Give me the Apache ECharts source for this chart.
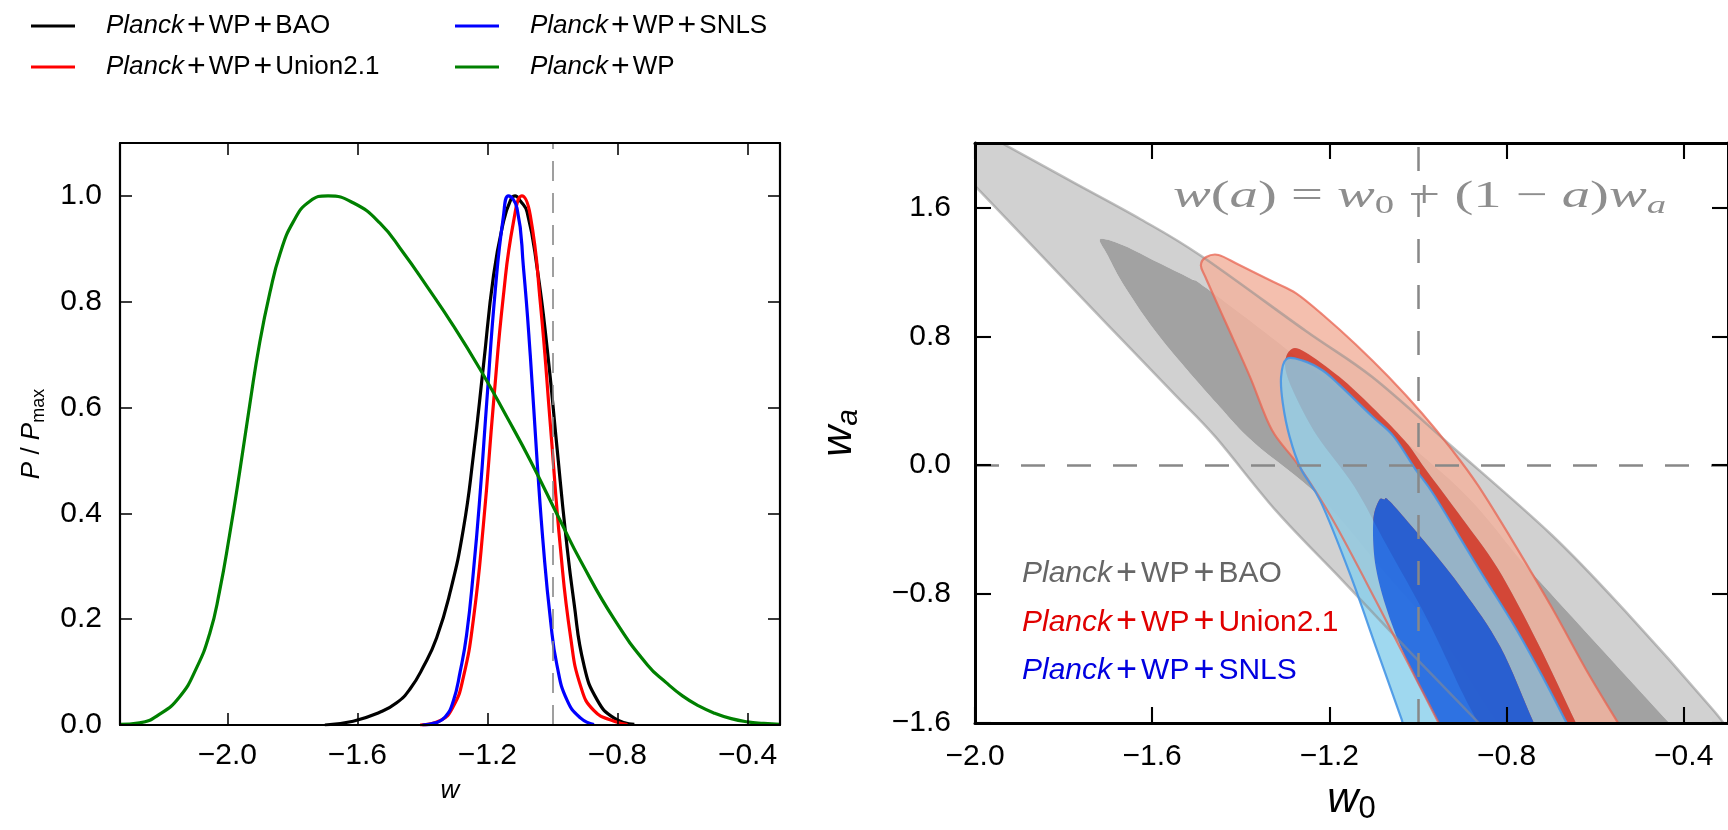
<!DOCTYPE html>
<html>
<head>
<meta charset="utf-8">
<script src="https://cdn.jsdelivr.net/npm/echarts@6/dist/echarts.min.js"></script>
<style>
html,body{margin:0;padding:0;background:#fff;}
#chart{width:1728px;height:830px;}
</style>
</head>
<body>
<div id="chart"></div>
<script>
// ---------------- data ----------------
const seriesNames = ['Planck+WP+BAO', 'Planck+WP+Union2.1', 'Planck+WP+SNLS', 'Planck+WP'];
const lineColors = ['#000000', '#ff0000', '#0000ff', '#008000'];

// 1D posteriors P/Pmax vs w (left panel)
const baoCurve = [[-1.70,0.0],[-1.613,0.007],[-1.531,0.024],[-1.479,0.042],[-1.438,0.068],[-1.397,0.11],[-1.356,0.165],[-1.315,0.25],[-1.274,0.37],[-1.243,0.51],[-1.212,0.68],[-1.181,0.85],[-1.151,0.95],[-1.13,0.99],[-1.115,1.0],[-1.098,0.99],[-1.078,0.97],[-1.047,0.864],[-1.016,0.711],[-0.986,0.525],[-0.96,0.365],[-0.934,0.233],[-0.903,0.113],[-0.862,0.047],[-0.81,0.013],[-0.748,0.001]];
const unionCurve = [[-1.407,0.0],[-1.346,0.008],[-1.305,0.035],[-1.274,0.09],[-1.243,0.2],[-1.212,0.38],[-1.181,0.61],[-1.151,0.81],[-1.12,0.95],[-1.094,1.0],[-1.068,0.963],[-1.037,0.797],[-1.006,0.565],[-0.975,0.332],[-0.944,0.166],[-0.913,0.073],[-0.872,0.027],[-0.81,0.007],[-0.769,0.001]];
const snlsCurve = [[-1.40,0.0],[-1.36,0.004],[-1.33,0.015],[-1.305,0.045],[-1.284,0.1],[-1.264,0.17],[-1.243,0.29],[-1.222,0.44],[-1.202,0.61],[-1.176,0.82],[-1.151,0.96],[-1.135,1.0],[-1.109,0.977],[-1.089,0.864],[-1.068,0.698],[-1.047,0.498],[-1.027,0.332],[-1.006,0.199],[-0.986,0.113],[-0.955,0.047],[-0.913,0.013],[-0.872,0.001]];
const wpCurve = [[-2.332,0.001],[-2.27,0.004],[-2.209,0.02],[-2.147,0.053],[-2.096,0.106],[-2.054,0.173],[-2.024,0.252],[-1.993,0.359],[-1.962,0.478],[-1.931,0.605],[-1.9,0.724],[-1.869,0.817],[-1.838,0.89],[-1.798,0.95],[-1.746,0.99],[-1.69,1.0],[-1.613,0.987],[-1.531,0.949],[-1.459,0.893],[-1.387,0.83],[-1.305,0.755],[-1.222,0.672],[-1.14,0.582],[-1.068,0.5],[-0.975,0.385],[-0.913,0.31],[-0.81,0.2],[-0.707,0.113],[-0.65,0.08],[-0.6,0.055],[-0.55,0.036],[-0.5,0.022],[-0.45,0.012],[-0.4,0.006],[-0.35,0.003],[-0.3,0.001]];

// 2D contours (w0, wa) (right panel)
const baoOuter = [[-2.15,2.32],[-1.94,2.0],[-1.775,1.751],[-1.626,1.527],[-1.49,1.30],[-1.253,0.833],[-1.103,0.547],[-0.924,0.118],[-0.698,-0.433],[-0.533,-0.903],[-0.335,-1.515],[-0.30,-1.65],[-0.21,-2.0],[-0.72,-2.0],[-0.864,-1.596],[-1.029,-1.127],[-1.169,-0.719],[-1.318,-0.29],[-1.458,0.179],[-1.551,0.445],[-1.701,0.873],[-1.85,1.302],[-1.999,1.731],[-2.15,2.166]];
const baoInner = [[-1.717,1.404],[-1.663,1.363],[-1.589,1.261],[-1.514,1.159],[-1.477,1.098],[-1.282,0.69],[-0.929,-0.086],[-0.739,-0.678],[-0.434,-1.596],[-0.30,-2.0],[-0.70,-2.0],[-0.82,-1.6],[-0.94,-1.1],[-1.08,-0.65],[-1.22,-0.2],[-1.37,0.14],[-1.454,0.383],[-1.581,0.79],[-1.66,1.1],[-1.70,1.30]];
const unionOuter = [[-1.49,1.24],[-1.478,1.292],[-1.45,1.305],[-1.402,1.241],[-1.327,1.139],[-1.275,1.067],[-1.215,0.934],[-1.141,0.751],[-1.066,0.547],[-0.991,0.322],[-0.924,0.098],[-0.864,-0.127],[-0.781,-0.494],[-0.698,-0.882],[-0.616,-1.29],[-0.549,-1.596],[-0.46,-2.0],[-0.88,-2.0],[-0.954,-1.596],[-1.095,-0.841],[-1.194,-0.331],[-1.27,0.0],[-1.33,0.22],[-1.379,0.547],[-1.432,0.873],[-1.477,1.15]];
const unionInner = [[-1.286,0.72],[-1.253,0.70],[-1.178,0.55],[-1.103,0.36],[-1.029,0.15],[-0.984,-0.02],[-0.90,-0.33],[-0.82,-0.64],[-0.73,-1.10],[-0.644,-1.596],[-0.574,-2.0],[-0.79,-2.0],[-0.864,-1.6],[-0.90,-1.41],[-0.98,-0.95],[-1.07,-0.5],[-1.144,-0.13],[-1.227,0.18],[-1.28,0.45],[-1.30,0.62]];
const snlsOuter = [[-1.297,0.659],[-1.309,0.547],[-1.305,0.383],[-1.29,0.179],[-1.264,-0.024],[-1.219,-0.229],[-1.153,-0.678],[-1.095,-1.127],[-1.037,-1.576],[-0.98,-2.0],[-0.589,-2.0],[-0.665,-1.596],[-0.715,-1.331],[-0.781,-1.004],[-0.864,-0.637],[-0.963,-0.188],[-1.006,-0.024],[-1.055,0.179],[-1.103,0.302],[-1.178,0.50],[-1.215,0.588],[-1.26,0.649]];
const snlsInner = [[-1.088,-0.219],[-1.101,-0.351],[-1.095,-0.637],[-1.062,-0.964],[-1.012,-1.29],[-0.954,-1.596],[-0.877,-2.0],[-0.674,-2.0],[-0.739,-1.596],[-0.814,-1.127],[-0.897,-0.78],[-0.979,-0.494],[-1.062,-0.229],[-1.076,-0.212]];

const leftXTicks = [-2.0,-1.6,-1.2,-0.8,-0.4];
const leftYTicks = [0,0.2,0.4,0.6,0.8,1.0];
const rightXTicks = [-2.0,-1.6,-1.2,-0.8,-0.4];
const rightYTicks = [-1.6,-0.8,0,0.8,1.6];

const legendTextColors = ['#666666', '#e00000', '#0000e0'];

// ---------------- helpers ----------------
const SANS = 'Liberation Sans';
function tickFmt(v){ if (Math.abs(v) < 1e-9) return '0.0'; return (v < 0 ? '\u2212' : '') + Math.abs(v).toFixed(1); }
function legendFmt(name){ const p = name.split('+'); return '{i|' + p[0] + '}' + p.slice(1).map(s => '{p|+}{n|' + s + '}').join(''); }
function richLegend(size, lh, plusSize, pad){
  return {
    i:{fontFamily:SANS, fontStyle:'italic', fontSize:size, lineHeight:lh},
    n:{fontFamily:SANS, fontSize:size, lineHeight:lh},
    p:{fontFamily:SANS, fontSize:plusSize, lineHeight:lh, padding:[0,pad,0,pad]}
  };
}
function toPts(arr, api){ return arr.map(p => api.coord(p)); }
function signedArea(pts){ let s = 0; for (let i = 0; i < pts.length; i++){ const a = pts[i], b = pts[(i+1)%pts.length]; s += a[0]*b[1] - b[0]*a[1]; } return s/2; }
function f(v){ return v.toFixed(2); }
// closed Catmull-Rom spline through the points, as cubic Bezier path data
function smoothPath(pts){
  const n = pts.length;
  let d = 'M' + f(pts[0][0]) + ' ' + f(pts[0][1]);
  for (let i = 0; i < n; i++){
    const p0 = pts[(i-1+n)%n], p1 = pts[i], p2 = pts[(i+1)%n], p3 = pts[(i+2)%n];
    const c1 = [p1[0] + (p2[0]-p0[0])/6, p1[1] + (p2[1]-p0[1])/6];
    const c2 = [p2[0] - (p3[0]-p1[0])/6, p2[1] - (p3[1]-p1[1])/6];
    d += 'C' + f(c1[0]) + ' ' + f(c1[1]) + ' ' + f(c2[0]) + ' ' + f(c2[1]) + ' ' + f(p2[0]) + ' ' + f(p2[1]);
  }
  return d + 'Z';
}
function ringPath(outer, inner, api){
  const o = toPts(outer, api); let n = toPts(inner, api);
  if (Math.sign(signedArea(o)) === Math.sign(signedArea(n))) n = n.slice().reverse();
  return smoothPath(o) + smoothPath(n);
}
function fillSeries(name, outer, inner, ringColor, innerColor){
  return {
    type:'custom', name:name, xAxisIndex:2, yAxisIndex:2, clip:true, silent:true,
    data:[[-1,0]],
    renderItem:function(params, api){
      return {type:'group', children:[
        {type:'path', shape:{pathData:ringPath(outer, inner, api)}, style:{fill:ringColor}},
        {type:'path', shape:{pathData:smoothPath(toPts(inner, api))}, style:{fill:innerColor}}
      ]};
    }
  };
}
function edgeSeries(){
  const edges = [
    [baoOuter, 'rgba(140,140,140,0.55)', 2.5],
    [unionOuter, 'rgba(232,100,82,0.75)', 2.2],
    [snlsOuter, 'rgba(70,150,230,0.9)', 2.2]
  ];
  return {
    type:'custom', name:'edges', xAxisIndex:2, yAxisIndex:2, clip:true, silent:true,
    data:[[-1,0]],
    renderItem:function(params, api){
      return {type:'group', children: edges.map(e => ({type:'path', shape:{pathData:smoothPath(toPts(e[0], api))}, style:{fill:'none', stroke:e[1], lineWidth:e[2]}}))};
    },
    markLine:{silent:true, symbol:'none', label:{show:false}, animation:false,
      lineStyle:{color:'#888888', width:2.5, type:[24,22]},
      data:[{xAxis:-1},{yAxis:0}]}
  };
}

function makeAxis(grid, min, max, pos, ticks, showLabel, w, tlen, margin, extra){
  return Object.assign({
    type:'value', gridIndex:grid, min:min, max:max, position:pos, z:10,
    axisLine:{show:true, onZero:false, lineStyle:{color:'#000', width:w}},
    axisTick:{show:true, inside:true, length:tlen, customValues:ticks, lineStyle:{color:'#000', width:w*0.7}},
    axisLabel:{show:showLabel, customValues:ticks, formatter:tickFmt, color:'#000', fontFamily:SANS, fontSize:30, margin:margin},
    splitLine:{show:false}
  }, extra||{});
}

const curves = [baoCurve, unionCurve, snlsCurve, wpCurve];
const lineSeries = curves.map((c, i) => ({
  type:'line', name:seriesNames[i], xAxisIndex:0, yAxisIndex:0, data:c,
  showSymbol:false, symbol:'none', smooth:0.5, silent:true,
  lineStyle:{color:lineColors[i], width:3.2}, itemStyle:{color:lineColors[i]},
  markLine: i === 0 ? {silent:true, symbol:'none', label:{show:false}, animation:false,
    lineStyle:{color:'#888888', width:1.6, type:[20,12]}, data:[{xAxis:-1}]} : undefined
}));

const option = {
  animation:false,
  backgroundColor:'#ffffff',
  grid:[
    {left:120, top:143, width:660, height:582},
    {left:975, top:143, width:759, height:587}
  ],
  xAxis:[
    makeAxis(0, -2.33, -0.3, 'bottom', leftXTicks, true, 2.2, 12, 16, {
      name:'w', nameLocation:'middle', nameGap:46,
      nameTextStyle:{fontFamily:SANS, fontStyle:'italic', fontSize:26, lineHeight:30, color:'#000'}}),
    makeAxis(0, -2.33, -0.3, 'top', leftXTicks, false, 2.2, 12, 16),
    makeAxis(1, -2.0, -0.3, 'bottom', rightXTicks, true, 3, 16, 19, {
      name:'{i|w}{s|0}', nameLocation:'middle', nameGap:52,
      nameTextStyle:{color:'#000', rich:{
        i:{fontFamily:SANS, fontStyle:'italic', fontSize:43, lineHeight:50},
        s:{fontFamily:SANS, fontSize:31, lineHeight:30, verticalAlign:'bottom'}}}}),
    makeAxis(1, -2.0, -0.3, 'top', rightXTicks, false, 3, 16, 19)
  ],
  yAxis:[
    makeAxis(0, 0, 1.1, 'left', leftYTicks, true, 2.2, 12, 18, {
      name:'{i|P}{n| / }{i|P}{s|max}', nameLocation:'middle', nameGap:72, nameRotate:90,
      nameTextStyle:{color:'#000', rich:{
        i:{fontFamily:SANS, fontStyle:'italic', fontSize:26, lineHeight:32},
        n:{fontFamily:SANS, fontSize:26, lineHeight:32},
        s:{fontFamily:SANS, fontSize:18, lineHeight:21, verticalAlign:'bottom'}}}}),
    makeAxis(0, 0, 1.1, 'right', leftYTicks, false, 2.2, 12, 18),
    makeAxis(1, -1.6, 2.0, 'left', rightYTicks, true, 3, 16, 24, {
      name:'{i|w}{s|a}', nameLocation:'middle', nameGap:111, nameRotate:90,
      nameTextStyle:{color:'#000', rich:{
        i:{fontFamily:SANS, fontStyle:'italic', fontSize:43, lineHeight:50},
        s:{fontFamily:SANS, fontStyle:'italic', fontSize:30, lineHeight:27, verticalAlign:'bottom'}}}}),
    makeAxis(1, -1.6, 2.0, 'right', rightYTicks, false, 3, 16, 24)
  ],
  legend:[
    {data:[seriesNames[0], seriesNames[1]], orient:'vertical', left:31, top:10, padding:0,
     itemWidth:44, itemHeight:3, itemGap:9, icon:'rect', selectedMode:false, formatter:legendFmt,
     textStyle:{color:'#000', fontFamily:SANS, fontSize:26, padding:[0,0,0,26], rich:richLegend(26,30,32,3)}},
    {data:[seriesNames[2], seriesNames[3]], orient:'vertical', left:455, top:10, padding:0,
     itemWidth:44, itemHeight:3, itemGap:9, icon:'rect', selectedMode:false, formatter:legendFmt,
     textStyle:{color:'#000', fontFamily:SANS, fontSize:26, padding:[0,0,0,26], rich:richLegend(26,30,32,3)}},
    {data:[0,1,2].map(i => ({name:seriesNames[i], icon:'none', textStyle:{color:legendTextColors[i]}})),
     orient:'vertical', left:1017, top:556, padding:0, itemWidth:0, itemHeight:0, itemGap:12.5,
     icon:'none', selectedMode:false, formatter:legendFmt,
     textStyle:{fontFamily:SANS, fontSize:30, rich:richLegend(30,36,36,4)}}
  ],
  graphic:[
    {type:'text', x:1173, y:197, scaleX:1.49, z:50, silent:true,
     style:{
       text:'{i|w}{n|(}{i|a}{n|) = }{i|w}{s|0}{n| + (1 \u2212 }{i|a}{n|)}{i|w}{si|a}',
       fill:'#8e8e8e', align:'left', verticalAlign:'middle',
       rich:{
         i:{fontFamily:'Liberation Serif', fontStyle:'italic', fontSize:38, lineHeight:44},
         n:{fontFamily:'Liberation Serif', fontSize:38, lineHeight:44},
         s:{fontFamily:'Liberation Serif', fontSize:26, lineHeight:20, verticalAlign:'bottom'},
         si:{fontFamily:'Liberation Serif', fontStyle:'italic', fontSize:26, lineHeight:20, verticalAlign:'bottom'}
       }}}
  ],
  series: lineSeries.concat([
    fillSeries(seriesNames[0], baoOuter, baoInner, '#d1d1d1', '#a2a2a2'),
    fillSeries(seriesNames[1], unionOuter, unionInner, 'rgba(242,180,160,0.85)', 'rgba(214,66,50,0.95)'),
    fillSeries(seriesNames[2], snlsOuter, snlsInner, 'rgba(135,206,235,0.8)', 'rgba(10,100,235,0.85)'),
    edgeSeries()
  ])
};

const chart = echarts.init(document.getElementById('chart'), null, {renderer:'canvas'});
chart.setOption(option);
</script>
</body>
</html>
